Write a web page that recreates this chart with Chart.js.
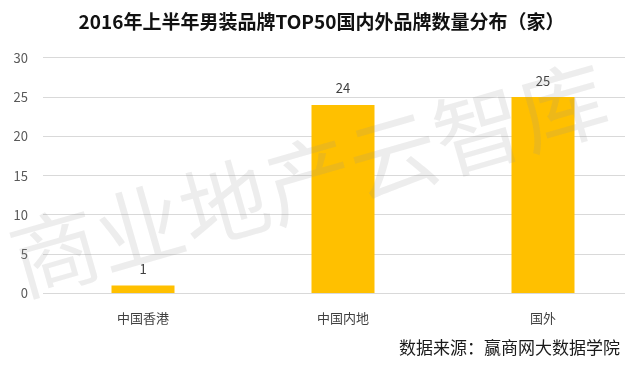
<!DOCTYPE html>
<html>
<head>
<meta charset="utf-8">
<script src="https://cdn.jsdelivr.net/npm/chart.js@4"></script>
<style>
  html, body { margin: 0; padding: 0; background: #fff; overflow: hidden; }
  #wrap { width: 625px; height: 365px; overflow: hidden; }
</style>
</head>
<body>
<div id="wrap"><canvas id="brandChart" width="645" height="365"></canvas></div>
<script>
const categories = ['中国香港', '中国内地', '国外'];
const brandCounts = [1, 24, 25];
const yTicks = [0, 5, 10, 15, 20, 25, 30];
const titleText = '2016年上半年男装品牌TOP50国内外品牌数量分布（家）';
const sourceText = '数据来源：赢商网大数据学院';
const watermarkText = '商业地产云智库';

const cjk = '"Noto Sans CJK SC", "Microsoft YaHei", sans-serif';

// value labels above bars
const valueLabels = {
    id: 'valueLabels',
    afterDatasetsDraw(chart) {
        const ctx = chart.ctx;
        const meta = chart.getDatasetMeta(0);
        ctx.save();
        ctx.font = '13px ' + cjk;
        ctx.fillStyle = '#404040';
        ctx.textAlign = 'center';
        ctx.textBaseline = 'bottom';
        meta.data.forEach((bar, i) => {
            ctx.fillText(String(brandCounts[i]), bar.x, bar.y - 10);
        });
        ctx.restore();
    }
};

// watermark + source note
const extras = {
    id: 'extras',
    afterDraw(chart) {
        const ctx = chart.ctx;
        ctx.save();
        ctx.translate(22, 296);
        ctx.rotate(-16 * Math.PI / 180);
        ctx.font = '88px ' + cjk;
        ctx.fillStyle = 'rgba(150, 150, 150, 0.17)';
        ctx.fillText(watermarkText, 0, 0);
        ctx.restore();

        ctx.save();
        ctx.font = '17px ' + cjk;
        ctx.fillStyle = '#1a1a1a';
        ctx.textAlign = 'right';
        ctx.textBaseline = 'middle';
        ctx.fillText(sourceText, 620, 348);
        ctx.restore();
    }
};

new Chart(document.getElementById('brandChart').getContext('2d'), {
    type: 'bar',
    data: {
        labels: categories,
        datasets: [{
            data: brandCounts,
            backgroundColor: '#FFC000',
            barPercentage: 0.63,
            categoryPercentage: 0.5
        }]
    },
    options: {
        responsive: false,
        animation: false,
        layout: { padding: { top: 10, right: 2, bottom: 30, left: 0 } },
        plugins: {
            legend: { display: false },
            tooltip: { enabled: false },
            title: {
                display: true,
                text: titleText,
                color: '#111',
                font: { family: cjk, size: 19, weight: 'bold' },
                padding: { top: 0, bottom: 25 }
            }
        },
        scales: {
            x: {
                grid: { display: false },
                border: { color: '#d9d9d9' },
                ticks: { color: '#404040', font: { family: cjk, size: 13 }, padding: 9 }
            },
            y: {
                min: 0,
                max: 30,
                afterFit(scale) { scale.width = 43; },
                afterBuildTicks(scale) { scale.ticks = yTicks.map(v => ({ value: v })); },
                grid: { color: '#d9d9d9', drawTicks: false },
                border: { display: false },
                ticks: { color: '#595959', font: { family: cjk, size: 13 }, padding: 15 }
            }
        }
    },
    plugins: [valueLabels, extras]
});
</script>
</body>
</html>
